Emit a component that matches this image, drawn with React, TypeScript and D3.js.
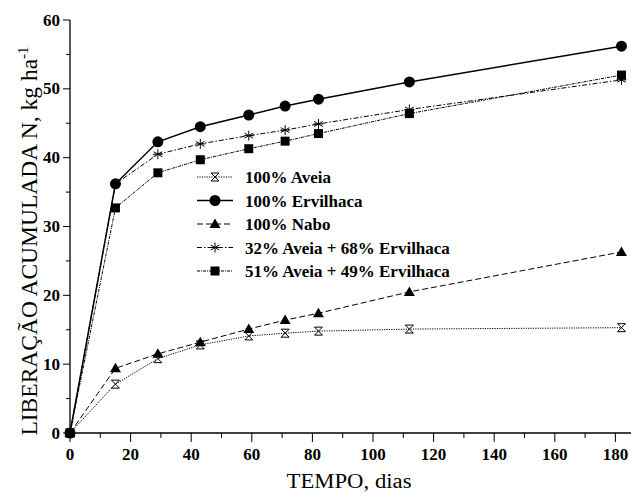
import React, { useEffect, useRef } from "react";
import * as d3 from "d3";

// days after management
const days = [0, 15, 29, 43, 59, 71, 82, 112, 182];

// accumulated N release, kg/ha
const aveia = [0, 7.1, 10.8, 12.8, 14.1, 14.5, 14.8, 15.1, 15.3];
const ervilhaca = [0, 36.2, 42.3, 44.5, 46.2, 47.5, 48.5, 51.0, 56.2];
const nabo = [0, 9.4, 11.5, 13.2, 15.1, 16.4, 17.4, 20.5, 26.3];
const mix32 = [0, 36.2, 40.5, 42.0, 43.2, 44.0, 44.9, 47.0, 51.3];
const mix51 = [0, 32.7, 37.8, 39.7, 41.3, 42.4, 43.5, 46.4, 52.0];

const seriesNames = [
  "100% Aveia",
  "100% Ervilhaca",
  "100% Nabo",
  "32% Aveia + 68% Ervilhaca",
  "51% Aveia + 49% Ervilhaca",
];

const xTicks = [0, 20, 40, 60, 80, 100, 120, 140, 160, 180];
const yTicks = [0, 10, 20, 30, 40, 50, 60];

const App = () => {
  const svgRef = useRef(null);

  useEffect(() => {
    const width = 631;
    const height = 494;

    const xScale = d3.scaleLinear().domain([0, 180]).range([70, 615.4]);
    const yScale = d3.scaleLinear().domain([0, 60]).range([433, 20]);

    const svg = d3.select(svgRef.current);
    svg.selectAll("*").remove();
    svg.attr("width", width).attr("height", height);

    svg.append("rect").attr("width", width).attr("height", height).attr("fill", "#fff");

    const font = "Liberation Serif, Times New Roman, serif";

    const series = [
      { name: seriesNames[0], values: aveia, dash: "1.2,1.2", marker: "hourglass" },
      { name: seriesNames[1], values: ervilhaca, dash: null, marker: "circle" },
      { name: seriesNames[2], values: nabo, dash: "6,3", marker: "triangle" },
      { name: seriesNames[3], values: mix32, dash: "5,2,1.5,2", marker: "star" },
      { name: seriesNames[4], values: mix51, dash: "3,1,1,1", marker: "square" },
    ];

    const line = d3
      .line<number>()
      .x((_, i) => xScale(days[i]))
      .y((d) => yScale(d));

    // draw a marker at (x, y)
    function drawMarker(g, type, x, y) {
      if (type === "circle") {
        g.append("circle").attr("cx", x).attr("cy", y).attr("r", 5.5).attr("fill", "#000");
      } else if (type === "square") {
        g.append("rect").attr("x", x - 4.5).attr("y", y - 4.5).attr("width", 9).attr("height", 9).attr("fill", "#000");
      } else if (type === "triangle") {
        g.append("path")
          .attr("d", `M${x},${y - 5.5}L${x + 5.5},${y + 4}L${x - 5.5},${y + 4}Z`)
          .attr("fill", "#000");
      } else if (type === "hourglass") {
        g.append("path")
          .attr("d", `M${x - 4},${y - 4}H${x + 4}L${x - 4},${y + 4}H${x + 4}Z`)
          .attr("fill", "#fff")
          .attr("stroke", "#000")
          .attr("stroke-width", 1);
      } else if (type === "star") {
        const r = 5;
        const p = [0, 60, 120].map((a) => {
          const rad = (a * Math.PI) / 180;
          return `M${x + r * Math.sin(rad)},${y - r * Math.cos(rad)}L${x - r * Math.sin(rad)},${y + r * Math.cos(rad)}`;
        });
        g.append("path")
          .attr("d", p.join("") + `M${x - r},${y}H${x + r}`)
          .attr("stroke", "#000")
          .attr("stroke-width", 1)
          .attr("fill", "none");
      }
    }

    // Lines
    series.forEach((s) => {
      svg
        .append("path")
        .datum(s.values)
        .attr("d", line)
        .attr("fill", "none")
        .attr("stroke", "#000")
        .attr("stroke-width", s.marker === "circle" ? 1.5 : 1)
        .attr("stroke-dasharray", s.dash);
    });

    // Markers (circle last so it sits on top at origin)
    const order = [0, 2, 3, 4, 1];
    order.forEach((k) => {
      const s = series[k];
      const g = svg.append("g");
      s.values.forEach((v, i) => drawMarker(g, s.marker, xScale(days[i]), yScale(v)));
    });

    // Axes
    svg.append("line").attr("x1", 70).attr("x2", 631).attr("y1", 433).attr("y2", 433).attr("stroke", "#000").attr("stroke-width", 1.3);
    svg.append("line").attr("x1", 70).attr("x2", 70).attr("y1", 20).attr("y2", 433).attr("stroke", "#000").attr("stroke-width", 1.3);

    d3.range(0, 181, 10).forEach((t) => {
      const major = t % 20 === 0;
      svg
        .append("line")
        .attr("x1", xScale(t))
        .attr("x2", xScale(t))
        .attr("y1", 433)
        .attr("y2", major ? 442 : 438)
        .attr("stroke", "#000");
    });
    xTicks.forEach((t) => {
      svg
        .append("text")
        .attr("x", xScale(t))
        .attr("y", 460)
        .attr("text-anchor", "middle")
        .attr("font-family", font)
        .attr("font-weight", "bold")
        .attr("font-size", 17)
        .text(t);
    });

    d3.range(0, 61, 5).forEach((t) => {
      const major = t % 10 === 0;
      svg
        .append("line")
        .attr("x1", major ? 63 : 66)
        .attr("x2", 70)
        .attr("y1", yScale(t))
        .attr("y2", yScale(t))
        .attr("stroke", "#000");
    });
    yTicks.forEach((t) => {
      svg
        .append("text")
        .attr("x", 60)
        .attr("y", yScale(t) + 5.5)
        .attr("text-anchor", "end")
        .attr("font-family", font)
        .attr("font-weight", "bold")
        .attr("font-size", 17)
        .text(t);
    });

    // Axis labels
    svg
      .append("text")
      .attr("x", 349)
      .attr("y", 488)
      .attr("text-anchor", "middle")
      .attr("textLength", 125)
      .attr("lengthAdjust", "spacingAndGlyphs")
      .attr("font-family", font)
      .attr("font-size", 20)
      .text("TEMPO, dias");

    const yl = svg
      .append("text")
      .attr("transform", "translate(37,241) rotate(-90)")
      .attr("text-anchor", "middle")
      .attr("font-family", font)
      .attr("font-size", 23.5);
    yl.append("tspan").text("LIBERAÇÃO ACUMULADA N, kg ha");
    yl.append("tspan").attr("dy", -9).attr("font-size", 15).text("-1");

    // Legend
    const legendY = [177, 200.5, 224, 247.5, 271];
    series.forEach((s, i) => {
      const y = legendY[i];
      svg
        .append("line")
        .attr("x1", 197)
        .attr("x2", 233)
        .attr("y1", y)
        .attr("y2", y)
        .attr("stroke", "#000")
        .attr("stroke-width", s.marker === "circle" ? 1.5 : 1)
        .attr("stroke-dasharray", s.dash);
      drawMarker(svg.append("g"), s.marker, 215, y);
      svg
        .append("text")
        .attr("x", 245)
        .attr("y", y + 6)
        .attr("font-family", font)
        .attr("font-weight", "bold")
        .attr("font-size", 17)
        .text(s.name);
    });
  }, []);

  return (
    <div style={{ position: "absolute", left: 0, top: 0 }}>
      <svg ref={svgRef}></svg>
    </div>
  );
};

export default App;
